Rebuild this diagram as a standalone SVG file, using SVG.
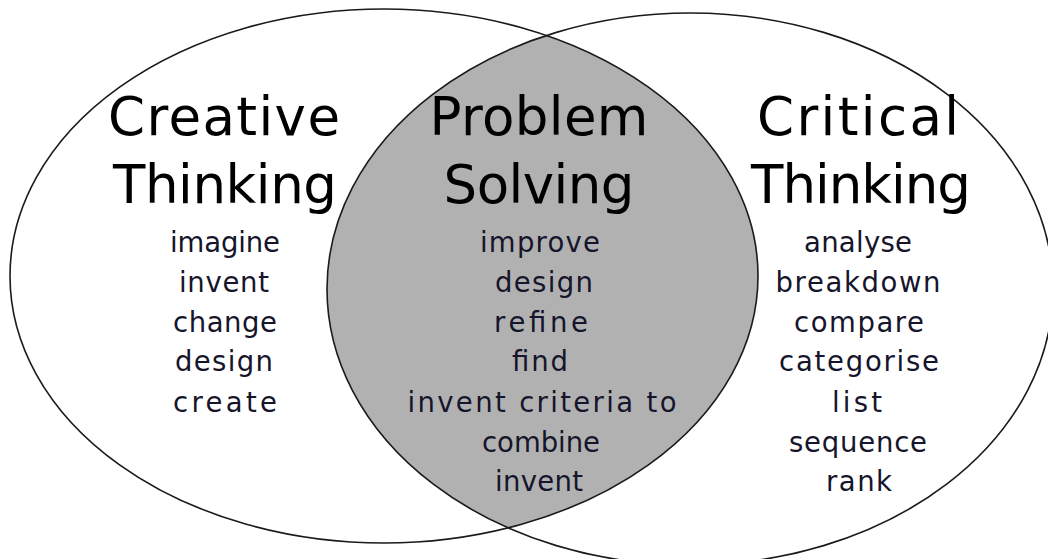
<svg xmlns="http://www.w3.org/2000/svg" width="1048" height="559" viewBox="0 0 1048 559">
<style>
.ring{fill:none;stroke:#1a1a1a;stroke-width:1.6}
.title{font-family:"DejaVu Sans",sans-serif;font-size:53px;fill:#000;text-anchor:middle}
.word{font-family:"DejaVu Sans",sans-serif;font-size:27.5px;fill:#15152b;text-anchor:middle}
</style>
<defs>
<clipPath id="clipLeft"><ellipse cx="384" cy="276" rx="374" ry="267"/></clipPath>
</defs>
<rect width="1048" height="559" fill="#fff"/>
<g id="overlap">
<ellipse cx="690" cy="289" rx="363" ry="276" fill="#b1b1b1" clip-path="url(#clipLeft)"/>
</g>
<g id="creative">
<ellipse class="ring" cx="384" cy="276" rx="374" ry="267"/>
<text class="title" x="224" y="135" textLength="232" lengthAdjust="spacing">Creative</text>
<text class="title" x="225" y="203" textLength="224" lengthAdjust="spacing">Thinking</text>
<text class="word" x="225" y="252" textLength="110" lengthAdjust="spacing">imagine</text>
<text class="word" x="224" y="292" textLength="90" lengthAdjust="spacing">invent</text>
<text class="word" x="225" y="332" textLength="104" lengthAdjust="spacing">change</text>
<text class="word" x="224" y="371" textLength="98" lengthAdjust="spacing">design</text>
<text class="word" x="225" y="412" textLength="104" lengthAdjust="spacing">create</text>
</g>
<g id="critical">
<ellipse class="ring" cx="690" cy="289" rx="363" ry="276"/>
<text class="title" x="858" y="135" textLength="202" lengthAdjust="spacing">Critical</text>
<text class="title" x="861" y="203" textLength="220" lengthAdjust="spacing">Thinking</text>
<text class="word" x="858" y="252" textLength="108" lengthAdjust="spacing">analyse</text>
<text class="word" x="858" y="292" textLength="165" lengthAdjust="spacing">breakdown</text>
<text class="word" x="859" y="332" textLength="130" lengthAdjust="spacing">compare</text>
<text class="word" x="859" y="371" textLength="160" lengthAdjust="spacing">categorise</text>
<text class="word" x="857" y="412" textLength="50" lengthAdjust="spacing">list</text>
<text class="word" x="858" y="452" textLength="138" lengthAdjust="spacing">sequence</text>
<text class="word" x="859" y="491" textLength="66" lengthAdjust="spacing">rank</text>
</g>
<g id="problem">
<text class="title" x="539" y="135" textLength="219" lengthAdjust="spacing">Problem</text>
<text class="title" x="539" y="203" textLength="191" lengthAdjust="spacing">Solving</text>
<text class="word" x="540" y="252" textLength="120" lengthAdjust="spacing">improve</text>
<text class="word" x="544" y="292" textLength="98" lengthAdjust="spacing">design</text>
<text class="word" x="541" y="332" textLength="94" lengthAdjust="spacing">refine</text>
<text class="word" x="540" y="371" textLength="56" lengthAdjust="spacing">find</text>
<text class="word" x="542" y="412" textLength="269" lengthAdjust="spacing">invent criteria to</text>
<text class="word" x="541" y="452" textLength="118" lengthAdjust="spacing">combine</text>
<text class="word" x="539" y="491" textLength="88" lengthAdjust="spacing">invent</text>
</g>
</svg>
